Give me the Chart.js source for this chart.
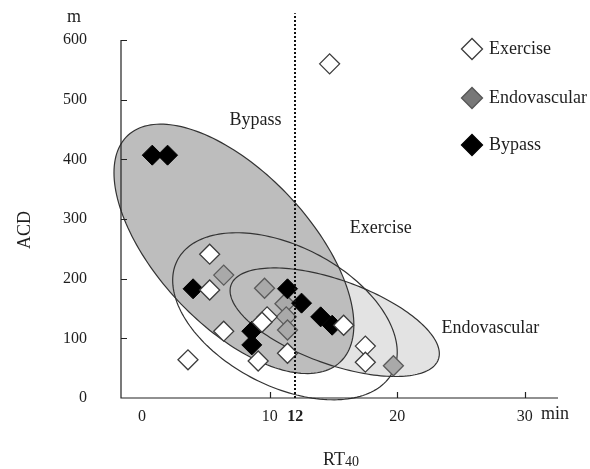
<!DOCTYPE html>
<html>
<head>
<meta charset="utf-8">
<script src="https://cdn.jsdelivr.net/npm/chart.js@4/dist/chart.umd.min.js"></script>
<style>
  html, body { margin: 0; padding: 0; background: #fff; }
  canvas { display: block; }
</style>
</head>
<body>
<canvas id="chart" width="590" height="469"></canvas>
<script>
// RT40 (min) and ACD (m) for each patient, by treatment group
const exerciseRT  = [14.7, 3.6, 5.3, 5.3, 6.4, 9.8, 9.4, 9.1, 11.4, 15.8, 17.5, 17.5];
const exerciseACD = [560, 64, 241, 181, 112, 136, 127, 62, 75, 122, 87, 60];
const endoRT      = [6.4, 9.6, 11.2, 11.3, 11.4, 19.7];
const endoACD     = [206, 184, 158, 136, 114, 54];
const bypassRT    = [0.8, 2.0, 4.0, 11.4, 12.5, 8.6, 8.6, 14.0, 14.9];
const bypassACD   = [407, 407, 183, 183, 159, 112, 89, 136, 122];

const groups = ['Exercise', 'Endovascular', 'Bypass'];

// group ellipses: centre (RT40, ACD), half spread along RT40 and ACD, correlation
const ellipseCenterRT  = [11.2, 15.1, 7.2];
const ellipseCenterACD = [137, 127, 250];
const ellipseSpreadRT  = [8.8, 8.2, 9.4];
const ellipseSpreadACD = [140, 91, 209];
const ellipseCorr      = [-0.43, -0.58, -0.61];

// axis ticks and the RT40 cut-off
const xTicks = [0, 10, 12, 20, 30];
const yTicks = [0, 100, 200, 300, 400, 500, 600];
const cutoffRT = 12;

// ---- styling / layout ----
const SERIF = "'Liberation Serif', 'Times New Roman', serif";
const INK = '#1e1e1e';
const ELLIPSE_FILL = [null, '#e3e3e3', '#bdbdbd'];
const ELLIPSE_LINE = '#333333';
const LEGEND_FILL = ['#ffffff', '#777777', '#000000'];
const LEGEND_LINE = ['#3c3c3c', '#555555', '#000000'];
// group name placed beside each ellipse (RT40, ACD)
const ellipseLabelAt = [[18.7, 285], [27.3, 117], [8.9, 466]];
const CUTOFF_TOP = 645;
const LABEL_FONT = '18px ' + SERIF;

const pts = (xs, ys) => xs.map((x, i) => ({ x, y: ys[i] }));

function px(chart, x, y) {
  return [chart.scales.x.getPixelForValue(x), chart.scales.y.getPixelForValue(y)];
}

function ellipsePath(ctx, chart, i) {
  const r = ellipseCorr[i], q = Math.sqrt(1 - r * r), n = 180;
  ctx.beginPath();
  for (let k = 0; k <= n; k++) {
    const t = 2 * Math.PI * k / n;
    const x = ellipseCenterRT[i] + ellipseSpreadRT[i] * Math.cos(t);
    const y = ellipseCenterACD[i] + ellipseSpreadACD[i] * (r * Math.cos(t) + q * Math.sin(t));
    const [u, v] = px(chart, x, y);
    if (k === 0) ctx.moveTo(u, v); else ctx.lineTo(u, v);
  }
  ctx.closePath();
}

// ellipses, axis lines and inner tick marks under the points
const backdrop = {
  id: 'backdrop',
  beforeDatasetsDraw(chart) {
    const ctx = chart.ctx, a = chart.chartArea;
    ctx.save();
    [1, 2].forEach(i => { ellipsePath(ctx, chart, i); ctx.fillStyle = ELLIPSE_FILL[i]; ctx.fill(); });
    ctx.strokeStyle = ELLIPSE_LINE; ctx.lineWidth = 1.2;
    [0, 1, 2].forEach(i => { ellipsePath(ctx, chart, i); ctx.stroke(); });

    // axes
    ctx.strokeStyle = '#222'; ctx.lineWidth = 1.2;
    ctx.beginPath();
    ctx.moveTo(a.left, a.top); ctx.lineTo(a.left, a.bottom); ctx.lineTo(a.right, a.bottom);
    ctx.stroke();
    ctx.beginPath();
    yTicks.filter(v => v > 0).forEach(v => {
      const y = Math.round(chart.scales.y.getPixelForValue(v)) + 0.5;
      ctx.moveTo(a.left, y); ctx.lineTo(a.left + 6, y);
    });
    xTicks.filter(v => v > 0 && v !== cutoffRT).forEach(v => {
      const x = Math.round(chart.scales.x.getPixelForValue(v)) + 0.5;
      ctx.moveTo(x, a.bottom); ctx.lineTo(x, a.bottom - 6);
    });
    ctx.stroke();

    // group names
    ctx.fillStyle = INK; ctx.font = LABEL_FONT;
    ctx.textAlign = 'center'; ctx.textBaseline = 'middle';
    groups.forEach((g, i) => {
      const [u, v] = px(chart, ellipseLabelAt[i][0], ellipseLabelAt[i][1]);
      ctx.fillText(g, u, v);
    });
    ctx.restore();
  },
  afterDatasetsDraw(chart) {
    const ctx = chart.ctx;
    ctx.save();
    // RT40 cut-off
    const [x0, yb] = px(chart, cutoffRT, 0);
    const [, yt] = px(chart, cutoffRT, CUTOFF_TOP);
    ctx.strokeStyle = '#111'; ctx.lineWidth = 2; ctx.setLineDash([2, 2]);
    ctx.beginPath(); ctx.moveTo(Math.round(x0), yb); ctx.lineTo(Math.round(x0), yt); ctx.stroke();
    ctx.setLineDash([]);

    // legend
    const lx = 472, ly = [49, 98, 145];
    chart.data.datasets.forEach((ds, i) => {
      const r = 10.5, y = ly[i];
      ctx.beginPath();
      ctx.moveTo(lx - r, y); ctx.lineTo(lx, y - r); ctx.lineTo(lx + r, y); ctx.lineTo(lx, y + r);
      ctx.closePath();
      ctx.fillStyle = LEGEND_FILL[i]; ctx.fill();
      ctx.strokeStyle = LEGEND_LINE[i]; ctx.lineWidth = 1.3; ctx.stroke();
      ctx.fillStyle = INK; ctx.font = LABEL_FONT;
      ctx.textAlign = 'left'; ctx.textBaseline = 'middle';
      ctx.fillText(ds.label, 489, y);
    });

    // axis titles and units
    ctx.fillStyle = INK; ctx.font = LABEL_FONT;
    ctx.textAlign = 'center'; ctx.textBaseline = 'middle';
    ctx.fillText('m', 74, 17);
    ctx.textAlign = 'left';
    ctx.fillText('min', 541, 414);
    ctx.save();
    ctx.translate(25, 230); ctx.rotate(-Math.PI / 2);
    ctx.textAlign = 'center';
    ctx.fillText('ACD', 0, 0);
    ctx.restore();
    ctx.textAlign = 'left';
    const w1 = ctx.measureText('RT').width;
    ctx.font = '14px ' + SERIF;
    const w2 = ctx.measureText('40').width;
    const sx = 341 - (w1 + w2) / 2;
    ctx.font = LABEL_FONT;
    ctx.fillText('RT', sx, 460);
    ctx.font = '14px ' + SERIF;
    ctx.fillText('40', sx + w1, 462);
    ctx.restore();
  }
};

Chart.defaults.font.family = SERIF;
Chart.defaults.font.size = 16;
Chart.defaults.color = INK;

new Chart(document.getElementById('chart'), {
  type: 'scatter',
  data: {
    datasets: [
      { label: groups[0], data: pts(exerciseRT, exerciseACD), order: 0,
        backgroundColor: '#ffffff', borderColor: '#3c3c3c', borderWidth: 1.3 },
      { label: groups[1], data: pts(endoRT, endoACD), order: 2,
        backgroundColor: '#a9a9a9', borderColor: '#5a5a5a', borderWidth: 1.3 },
      { label: groups[2], data: pts(bypassRT, bypassACD), order: 1,
        backgroundColor: '#000000', borderColor: '#000000', borderWidth: 1 }
    ]
  },
  options: {
    responsive: false,
    animation: false,
    devicePixelRatio: 1,
    layout: { padding: { top: 40, right: 32, left: 0, bottom: 0 } },
    elements: { point: { pointStyle: 'rectRot', radius: 10, hoverRadius: 10 } },
    plugins: { legend: { display: false }, tooltip: { enabled: false } },
    scales: {
      x: {
        type: 'linear', min: -1.65, max: 32.6,
        grid: { display: false }, border: { display: false },
        afterBuildTicks: s => { s.ticks = xTicks.map(v => ({ value: v })); },
        afterFit: s => { s.height = 71; },
        ticks: {
          padding: 1,
          autoSkip: false,
          maxRotation: 0,
          callback: v => String(v),
          font: c => (c.tick && c.tick.value === cutoffRT) ? { weight: 'bold', size: 16, family: SERIF } : { size: 16, family: SERIF }
        }
      },
      y: {
        type: 'linear', min: 0, max: 600,
        grid: { display: false }, border: { display: false },
        afterBuildTicks: s => { s.ticks = yTicks.map(v => ({ value: v })); },
        afterFit: s => { s.width = 121; },
        ticks: { padding: 26, callback: v => String(v) }
      }
    }
  },
  plugins: [backdrop]
});
</script>
</body>
</html>
